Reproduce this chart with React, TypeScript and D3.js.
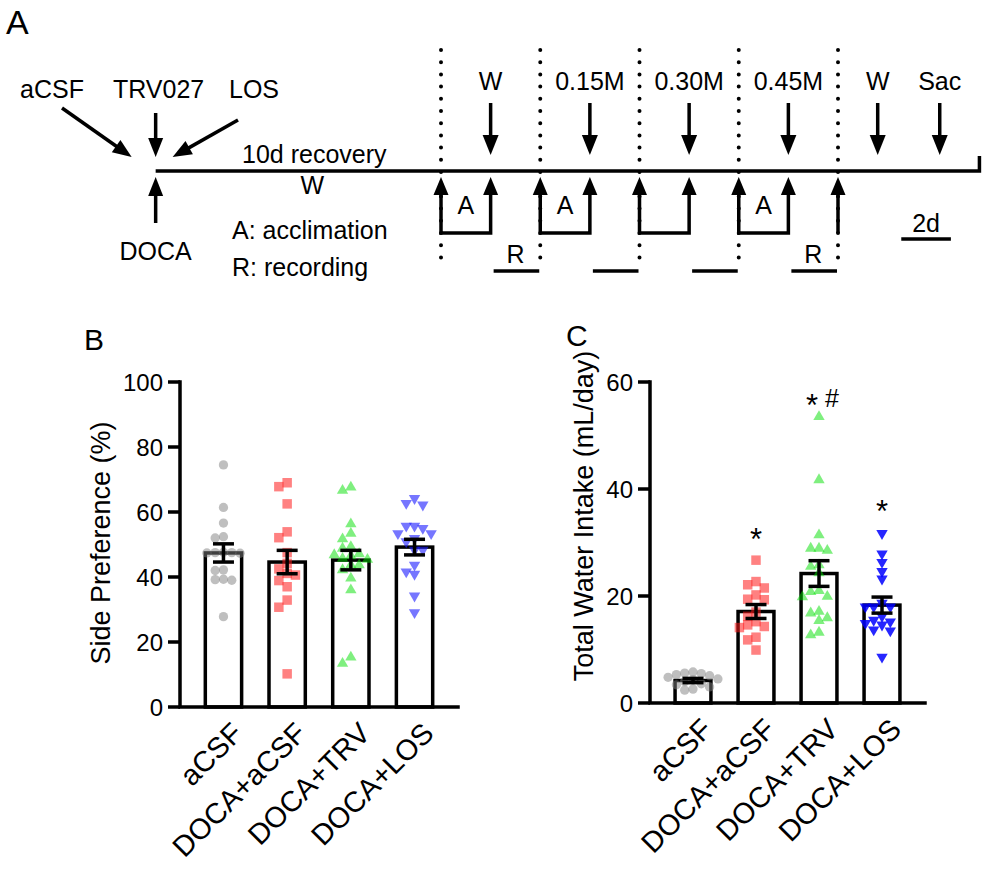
import React from "react";
import * as d3 from "d3";

// ---------- shared ----------
const groups = ["aCSF", "DOCA+aCSF", "DOCA+TRV", "DOCA+LOS"];

// ---------- Panel B: Side Preference (%) ----------
const sideMean = [47.4, 44.6, 45.2, 49.2];
const sideSem = [2.8, 3.6, 3.0, 2.4];
const sideACSF = [74.5, 61.4, 56.6, 52.4, 52.0, 47.6, 47.5, 47.4, 47.5, 47.3, 42.2, 42.0, 39.3, 39.0, 39.2, 27.8];
const sideDocaACSF = [69.0, 67.8, 62.5, 53.9, 52.1, 47.5, 44.2, 42.5, 41.1, 40.6, 38.9, 37.0, 32.9, 30.7, 10.2];
const sideDocaTRV = [67.6, 66.6, 56.3, 53.4, 51.7, 49.3, 48.8, 47.1, 46.8, 46.5, 45.7, 45.4, 43.7, 43.7, 42.2, 39.6, 36.0, 15.3, 13.4];
const sideDocaLOS = [64.2, 62.7, 62.2, 55.7, 55.7, 55.0, 53.4, 53.4, 51.9, 50.9, 48.3, 48.3, 43.7, 41.6, 40.9, 34.2, 29.1];
const sideTicks = [0, 20, 40, 60, 80, 100];

// ---------- Panel C: Total Water Intake (mL/day) ----------
const waterMean = [4.2, 17.1, 24.2, 18.3];
const waterSem = [0.4, 1.3, 2.4, 1.5];
const waterACSF = [5.8, 5.6, 5.5, 5.3, 5.1, 4.8, 4.5, 4.3, 4.0, 3.6, 3.4, 3.0, 2.6, 2.4];
const waterDocaACSF = [26.7, 22.7, 22.1, 21.5, 20.2, 19.4, 19.3, 17.0, 16.2, 15.2, 14.6, 14.3, 14.1, 12.3, 11.8, 9.9];
const waterDocaTRV = [53.5, 41.7, 31.4, 28.9, 28.9, 28.5, 25.8, 25.5, 24.3, 21.0, 20.8, 19.9, 19.8, 17.1, 16.8, 15.9, 15.4, 13.2, 12.7];
const waterDocaLOS = [31.7, 27.9, 26.3, 24.6, 23.2, 18.7, 18.0, 18.0, 18.0, 16.2, 15.5, 15.2, 14.9, 14.6, 13.7, 13.5, 8.6];
const waterTicks = [0, 20, 40, 60];
const waterStar = [false, true, true, true];
const waterHash = [false, false, true, false];
const waterSigAt = [0, 28.6, 53.6, 33.8];

// ---------- Panel A: timeline (days) ----------
const sessionBounds = [0, 4, 8, 12, 16];
const acclWindows: [number, number][] = [[0, 2], [4, 6], [8, 10], [12, 14]];
const acclLabels = ["A", "A", "", "A"];
const recWindows: [number, number][] = [[2, 4], [6, 8], [10, 12], [14, 16]];
const recLabels = ["R", "", "", "R"];
const dropLabels = ["W", "0.15M", "0.30M", "0.45M", "W", "Sac"];
const dropDays = [2, 6, 10, 14, 17.6, 20.1];
const finalDay = 16;
const surgeryDay = -11.5;
const endDay = 21.7;
const scaleBarDays = [18.55, 20.55];

const FONT = "'Liberation Sans', Arial, Helvetica, sans-serif";
const SW = 3.5;

const symbolsShapes = ["circle", "square", "up", "down"];
const colorsB = [
  { fill: "#808080", op: 0.5 },
  { fill: "#ff1a1a", op: 0.55 },
  { fill: "#00e000", op: 0.5 },
  { fill: "#1a1aff", op: 0.6 },
];
const colorsC = [
  { fill: "#808080", op: 0.5 },
  { fill: "#ff1a1a", op: 0.55 },
  { fill: "#00e000", op: 0.5 },
  { fill: "#0000ff", op: 0.85 },
];

function swarm(values: number[], y: (v: number) => number, step: number, minDy: number) {
  const order = values.map((_, i) => i).sort((a, b) => values[b] - values[a]);
  const placed: { x: number; y: number }[] = [];
  const out: { dx: number; y: number }[] = new Array(values.length);
  for (const i of order) {
    const py = y(values[i]);
    for (let k = 0; k < 60; k++) {
      const col = k === 0 ? 0 : k % 2 === 1 ? -Math.ceil(k / 2) : Math.ceil(k / 2);
      const px = col * step;
      if (!placed.some((p) => Math.abs(p.x - px) < step * 0.5 && Math.abs(p.y - py) < minDy)) {
        placed.push({ x: px, y: py });
        out[i] = { dx: px, y: py };
        break;
      }
    }
  }
  return out;
}

function Marker({ shape, x, y, fill, op }: any) {
  let d: string;
  if (shape === "circle") d = d3.symbol(d3.symbolCircle, 68)()!;
  else if (shape === "square") d = d3.symbol(d3.symbolSquare, 90)()!;
  else d = d3.symbol(d3.symbolTriangle, 56)()!;
  const rot = shape === "down" ? " rotate(180)" : "";
  return <path d={d} transform={`translate(${x},${y})${rot}`} fill={fill} fillOpacity={op} />;
}

function BarPanel(props: {
  letter: string;
  letterX: number;
  letterY: number;
  title: string;
  titleX: number;
  titleY: number;
  x0: number;
  x1: number;
  yTop: number;
  yBottom: number;
  max: number;
  ticks: number[];
  means: number[];
  sems: number[];
  points: number[][];
  colors: { fill: string; op: number }[];
  star?: boolean[];
  hash?: boolean[];
  sigAt?: number[];
  overlap: number;
}) {
  const p = props;
  const y = d3.scaleLinear().domain([0, p.max]).range([p.yBottom, p.yTop]);
  const x = d3.scaleBand<string>().domain(groups).range([p.x0, p.x1]).paddingInner(0.375).paddingOuter(0.37);
  const bw = x.bandwidth();
  return (
    <g fontFamily={FONT}>
      <text x={p.letterX} y={p.letterY} fontSize={30}>{p.letter}</text>
      <text
        transform={`translate(${p.titleX},${p.titleY}) rotate(-90)`}
        textAnchor="middle"
        fontSize={27}
      >
        {p.title}
      </text>
      {/* bars */}
      {groups.map((g, i) => (
        <rect
          key={g}
          x={x(g)! + SW / 2}
          y={y(p.means[i])}
          width={bw - SW}
          height={y(0) - y(p.means[i])}
          fill="#fff"
          stroke="#000"
          strokeWidth={SW}
        />
      ))}
      {/* points */}
      {groups.map((g, i) => {
        const cx = x(g)! + bw / 2;
        const pos = swarm(p.points[i], y, 8.3, p.overlap);
        return (
          <g key={g}>
            {pos.map((q, j) => (
              <Marker key={j} shape={symbolsShapes[i]} x={cx + q.dx} y={q.y} fill={p.colors[i].fill} op={p.colors[i].op} />
            ))}
          </g>
        );
      })}
      {/* error bars */}
      {groups.map((g, i) => {
        const cx = x(g)! + bw / 2;
        const hi = y(p.means[i] + p.sems[i]);
        const lo = y(p.means[i] - p.sems[i]);
        return (
          <g key={g} stroke="#000" strokeWidth={SW}>
            <line x1={cx} x2={cx} y1={hi} y2={lo} />
            <line x1={cx - 10.5} x2={cx + 10.5} y1={hi} y2={hi} />
            <line x1={cx - 10.5} x2={cx + 10.5} y1={lo} y2={lo} />
          </g>
        );
      })}
      {/* significance */}
      {p.star &&
        groups.map((g, i) => {
          if (!p.star![i]) return null;
          const cx = x(g)! + bw / 2;
          const hasHash = p.hash && p.hash[i];
          return (
            <g key={g}>
              <text x={cx + (hasHash ? -7 : 0)} y={y(p.sigAt![i])} textAnchor="middle" fontSize={31}>*</text>
              {hasHash && (
                <text x={cx + 13} y={y(p.sigAt![i]) - 9} textAnchor="middle" fontSize={25}>#</text>
              )}
            </g>
          );
        })}
      {/* axes */}
      <path
        d={`M${p.x0},${y(p.max)} V${y(0)} H${p.x1}`}
        fill="none"
        stroke="#000"
        strokeWidth={SW}
        strokeLinecap="square"
      />
      {p.ticks.map((t) => (
        <g key={t}>
          <line x1={p.x0 - 12} x2={p.x0} y1={y(t)} y2={y(t)} stroke="#000" strokeWidth={SW} />
          <text x={p.x0 - 17} y={y(t)} dy="0.36em" textAnchor="end" fontSize={24}>
            {t}
          </text>
        </g>
      ))}
      {groups.map((g) => (
        <text
          key={g}
          transform={`translate(${x(g)! + bw / 2 + 21},${y(0) + 28}) rotate(-45)`}
          textAnchor="end"
          fontSize={29}
        >
          {g}
        </text>
      ))}
    </g>
  );
}

function Arrow({ x1, y1, x2, y2, hl = 19, hw = 15 }: any) {
  const dx = x2 - x1;
  const dy = y2 - y1;
  const len = Math.hypot(dx, dy);
  const ux = dx / len;
  const uy = dy / len;
  const bx = x2 - ux * hl;
  const by = y2 - uy * hl;
  const nx = -uy;
  const ny = ux;
  return (
    <g>
      <line x1={x1} y1={y1} x2={bx + ux * 2} y2={by + uy * 2} stroke="#000" strokeWidth={SW} />
      <polygon
        points={`${x2},${y2} ${bx + (nx * hw) / 2},${by + (ny * hw) / 2} ${bx - (nx * hw) / 2},${by - (ny * hw) / 2}`}
        fill="#000"
      />
    </g>
  );
}

function UpHead({ x, tip, hl = 18, hw = 15 }: any) {
  return <polygon points={`${x},${tip} ${x - hw / 2},${tip + hl} ${x + hw / 2},${tip + hl}`} fill="#000" />;
}

function PanelA() {
  const t = d3.scaleLinear().domain([0, 16]).range([441, 838]);
  const lineY = 171;
  const upTip = 177;
  const boxY = 233;
  const recY = 271;
  const sx = t(surgeryDay);
  return (
    <g fontFamily={FONT} fontSize={25}>
      <text x={6} y={34} fontSize={34}>A</text>
      {/* dotted separators */}
      {sessionBounds.map((d) => (
        <line
          key={d}
          x1={t(d)}
          x2={t(d)}
          y1={50}
          y2={262}
          stroke="#000"
          strokeWidth={4}
          strokeLinecap="round"
          strokeDasharray="0 12.2"
        />
      ))}
      {/* main line */}
      <path d={`M${sx},${lineY} H${t(endDay)} V${lineY - 15}`} fill="none" stroke="#000" strokeWidth={SW} />
      {/* surgery */}
      <text x={20} y={98}>aCSF</text>
      <text x={113} y={98}>TRV027</text>
      <text x={229} y={98}>LOS</text>
      <Arrow x1={62} y1={108} x2={sx - 24} y2={157} />
      <Arrow x1={sx} y1={113} x2={sx} y2={157} />
      <Arrow x1={238} y1={120} x2={sx + 17} y2={157} />
      <Arrow x1={sx} y1={223} x2={sx} y2={upTip} />
      <text x={sx} y={260} textAnchor="middle">DOCA</text>
      <text x={(sx + t(0)) / 2 + 16} y={163} textAnchor="middle">10d recovery</text>
      <text x={(sx + t(0)) / 2 + 14} y={194} textAnchor="middle">W</text>
      <text x={232} y={239}>A: acclimation</text>
      <text x={232} y={276}>R: recording</text>
      {/* drinking solution drops */}
      {dropDays.map((d, i) => (
        <g key={i}>
          <text x={t(d)} y={90} textAnchor="middle">{dropLabels[i]}</text>
          <Arrow x1={t(d)} y1={103} x2={t(d)} y2={155} hl={20} hw={16} />
        </g>
      ))}
      {/* acclimation boxes */}
      {acclWindows.map(([a, b], i) => (
        <g key={i}>
          <path
            d={`M${t(a)},${upTip + 16} V${boxY} H${t(b)} V${upTip + 16}`}
            fill="none"
            stroke="#000"
            strokeWidth={SW}
            strokeLinejoin="miter"
          />
          <UpHead x={t(a)} tip={upTip} />
          <UpHead x={t(b)} tip={upTip} />
          {acclLabels[i] && (
            <text x={(t(a) + t(b)) / 2} y={214} textAnchor="middle">{acclLabels[i]}</text>
          )}
        </g>
      ))}
      <line x1={t(finalDay)} x2={t(finalDay)} y1={upTip + 16} y2={boxY} stroke="#000" strokeWidth={SW} />
      <UpHead x={t(finalDay)} tip={upTip} />
      {/* recording */}
      {recWindows.map(([a, b], i) => (
        <g key={i}>
          <line x1={t(a) + 3} x2={t(b) - 1} y1={recY} y2={recY} stroke="#000" strokeWidth={SW} />
          {recLabels[i] && (
            <text x={(t(a) + t(b)) / 2} y={263} textAnchor="middle">{recLabels[i]}</text>
          )}
        </g>
      ))}
      {/* scale bar */}
      <line x1={t(scaleBarDays[0])} x2={t(scaleBarDays[1])} y1={239} y2={239} stroke="#000" strokeWidth={SW} />
      <text x={(t(scaleBarDays[0]) + t(scaleBarDays[1])) / 2} y={232} textAnchor="middle">2d</text>
    </g>
  );
}

export default function App() {
  return (
    <svg
      width={985}
      height={870}
      style={{ position: "absolute", left: 0, top: 0, background: "#fff" }}
    >
      <rect width={985} height={870} fill="#fff" />
      <PanelA />
      <BarPanel
        letter="B"
        letterX={84}
        letterY={350}
        title="Side Preference (%)"
        titleX={110}
        titleY={543}
        x0={180}
        x1={458}
        yTop={382}
        yBottom={707}
        max={100}
        ticks={sideTicks}
        means={sideMean}
        sems={sideSem}
        points={[sideACSF, sideDocaACSF, sideDocaTRV, sideDocaLOS]}
        colors={colorsB}
        overlap={9}
      />
      <BarPanel
        letter="C"
        letterX={566}
        letterY={346}
        title="Total Water Intake (mL/day)"
        titleX={593}
        titleY={516}
        x0={650}
        x1={925}
        yTop={382}
        yBottom={703}
        max={60}
        ticks={waterTicks}
        means={waterMean}
        sems={waterSem}
        points={[waterACSF, waterDocaACSF, waterDocaTRV, waterDocaLOS]}
        colors={colorsC}
        star={waterStar}
        hash={waterHash}
        sigAt={waterSigAt}
        overlap={7}
      />
    </svg>
  );
}
